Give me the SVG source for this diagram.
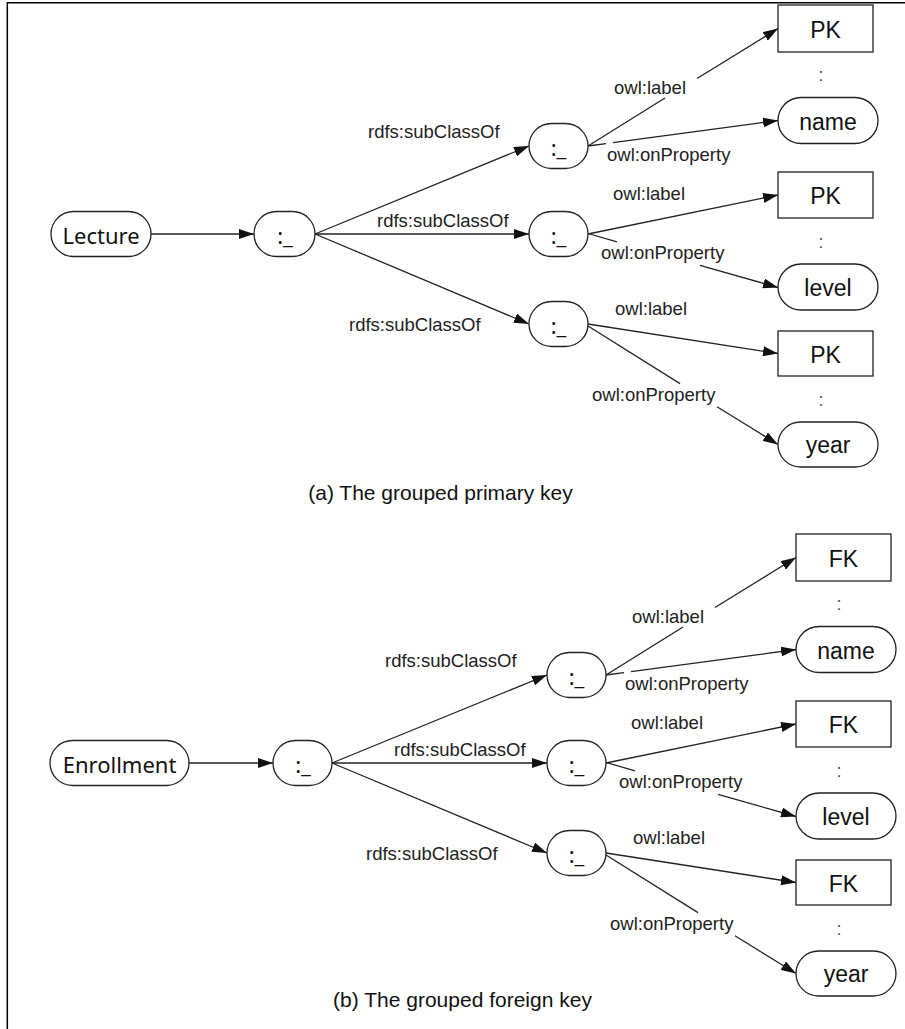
<svg xmlns="http://www.w3.org/2000/svg" width="905" height="1029" viewBox="0 0 905 1029">
<style>
.frame{stroke:#000;stroke-width:1.5;fill:none}
.node{fill:#fff;stroke:#222;stroke-width:1.3}
.nl{font-family:"Noto Sans",sans-serif;font-size:22px;fill:#111;text-anchor:middle}
.bl{font-family:"Liberation Sans",Arial,sans-serif;font-size:23px;fill:#111;text-anchor:middle}
.el{font-family:"Liberation Sans",Arial,sans-serif;font-size:18.5px;fill:#222}
.cap{font-family:"Liberation Sans",Arial,sans-serif;font-size:21px;fill:#111;text-anchor:middle}
.col{font-family:"Liberation Sans",Arial,sans-serif;font-size:18px;fill:#555;text-anchor:middle}
.e{stroke:#222;stroke-width:1.3;fill:none}
.a{marker-end:url(#arr)}
</style>
<defs>
<marker id="arr" markerUnits="userSpaceOnUse" markerWidth="15" markerHeight="10" refX="15" refY="5" orient="auto">
<path d="M0,0 L15,5 L0,10 z" fill="#111"/>
</marker>
</defs>
<rect width="905" height="1029" fill="#fff"/>
<path class="frame" d="M7.3,1029 L7.3,2.7 L905,2.7"/>

<g id="connectors">
  <!-- (a) -->
  <line class="e a" x1="151" y1="234" x2="254" y2="234"/>
  <line class="e a" x1="315" y1="234" x2="529" y2="146"/>
  <line class="e a" x1="315" y1="234" x2="529" y2="234"/>
  <line class="e a" x1="315" y1="234" x2="529" y2="324"/>
  <line class="e" x1="588" y1="146" x2="665" y2="98"/>
  <line class="e a" x1="697" y1="78.5" x2="778" y2="28.5"/>
  <line class="e" x1="588" y1="146" x2="606" y2="143.6"/>
  <line class="e a" x1="613" y1="142.6" x2="778" y2="120.5"/>
  <line class="e a" x1="588" y1="234" x2="778" y2="195"/>
  <line class="e" x1="588" y1="233.5" x2="617" y2="241.8"/>
  <line class="e a" x1="700" y1="265.4" x2="778" y2="287.5"/>
  <line class="e a" x1="588" y1="324" x2="778" y2="353.5"/>
  <line class="e" x1="588" y1="326" x2="680" y2="383.6"/>
  <line class="e a" x1="717" y1="406.8" x2="778" y2="444.5"/>
  <!-- (b) -->
  <line class="e a" x1="189" y1="763" x2="273" y2="763"/>
  <line class="e a" x1="332" y1="763" x2="547" y2="675"/>
  <line class="e a" x1="332" y1="763" x2="547" y2="763"/>
  <line class="e a" x1="332" y1="763" x2="547" y2="853"/>
  <line class="e" x1="606" y1="675" x2="683" y2="627"/>
  <line class="e a" x1="715" y1="607.5" x2="796" y2="557.5"/>
  <line class="e" x1="606" y1="675" x2="624" y2="672.6"/>
  <line class="e a" x1="631" y1="671.6" x2="796" y2="649.5"/>
  <line class="e a" x1="606" y1="763" x2="796" y2="724"/>
  <line class="e" x1="606" y1="762.5" x2="635" y2="770.8"/>
  <line class="e a" x1="718" y1="794.4" x2="796" y2="816.5"/>
  <line class="e a" x1="606" y1="853" x2="796" y2="882.5"/>
  <line class="e" x1="606" y1="855" x2="698" y2="912.6"/>
  <line class="e a" x1="735" y1="935.8" x2="796" y2="973.5"/>
</g>

<g id="edge-labels">
  <text class="el" x="368" y="138">rdfs:subClassOf</text>
  <text class="el" x="377" y="226.5">rdfs:subClassOf</text>
  <text class="el" x="349" y="330.5">rdfs:subClassOf</text>
  <text class="el" x="614" y="93.5">owl:label</text>
  <text class="el" x="607" y="160.5">owl:onProperty</text>
  <text class="el" x="613" y="200">owl:label</text>
  <text class="el" x="601" y="259">owl:onProperty</text>
  <text class="el" x="615" y="315">owl:label</text>
  <text class="el" x="592" y="400.5">owl:onProperty</text>

  <text class="el" x="385" y="667">rdfs:subClassOf</text>
  <text class="el" x="394" y="755.5">rdfs:subClassOf</text>
  <text class="el" x="366" y="859.5">rdfs:subClassOf</text>
  <text class="el" x="632" y="622.5">owl:label</text>
  <text class="el" x="625" y="689.5">owl:onProperty</text>
  <text class="el" x="631" y="729">owl:label</text>
  <text class="el" x="619" y="788">owl:onProperty</text>
  <text class="el" x="633" y="844">owl:label</text>
  <text class="el" x="610" y="929.5">owl:onProperty</text>
</g>

<!-- (a) nodes -->
<g id="lecture"><rect class="node" x="51" y="211.5" width="100" height="45" rx="22.5"/><text class="nl" x="101" y="244">Lecture</text></g>
<g id="a-root"><rect class="node" x="254" y="211.5" width="61" height="45" rx="22.5"/><text class="nl" x="285" y="244">:_</text></g>
<g id="a-mid1"><rect class="node" x="529" y="123.5" width="59" height="45" rx="22.5"/><text class="nl" x="558.5" y="156">:_</text></g>
<g id="a-mid2"><rect class="node" x="529" y="211.5" width="59" height="45" rx="22.5"/><text class="nl" x="558.5" y="244">:_</text></g>
<g id="a-mid3"><rect class="node" x="529" y="301.5" width="59" height="45" rx="22.5"/><text class="nl" x="558.5" y="334">:_</text></g>
<g id="a-pk1"><rect class="node" x="778" y="5" width="95" height="47"/><text class="bl" x="825.5" y="37.5">PK</text></g>
<g id="a-name"><rect class="node" x="778" y="97.5" width="100" height="46" rx="23"/><text class="bl" x="828" y="129.5">name</text></g>
<g id="a-pk2"><rect class="node" x="778" y="172" width="95" height="46"/><text class="bl" x="825.5" y="204">PK</text></g>
<g id="a-level"><rect class="node" x="778" y="264" width="100" height="46" rx="23"/><text class="bl" x="828" y="296">level</text></g>
<g id="a-pk3"><rect class="node" x="778" y="331" width="95" height="45"/><text class="bl" x="825.5" y="362.5">PK</text></g>
<g id="a-year"><rect class="node" x="778" y="422" width="100" height="45" rx="22.5"/><text class="bl" x="828" y="453">year</text></g>
<g id="a-colons">
  <text class="col" x="821" y="81">:</text>
  <text class="col" x="821" y="248">:</text>
  <text class="col" x="821" y="406">:</text>
</g>
<text class="cap" x="440.5" y="500">(a) The grouped primary key</text>

<!-- (b) nodes -->
<g id="enrollment"><rect class="node" x="50" y="740.5" width="139" height="45" rx="22.5"/><text class="nl" x="119.5" y="773">Enrollment</text></g>
<g id="b-root"><rect class="node" x="273" y="740.5" width="59" height="45" rx="22.5"/><text class="nl" x="303" y="773">:_</text></g>
<g id="b-mid1"><rect class="node" x="547" y="652.5" width="59" height="45" rx="22.5"/><text class="nl" x="576.5" y="685">:_</text></g>
<g id="b-mid2"><rect class="node" x="547" y="740.5" width="59" height="45" rx="22.5"/><text class="nl" x="576.5" y="773">:_</text></g>
<g id="b-mid3"><rect class="node" x="547" y="830.5" width="59" height="45" rx="22.5"/><text class="nl" x="576.5" y="863">:_</text></g>
<g id="b-fk1"><rect class="node" x="796" y="534" width="95" height="47"/><text class="bl" x="843.5" y="566.5">FK</text></g>
<g id="b-name"><rect class="node" x="796" y="626.5" width="100" height="46" rx="23"/><text class="bl" x="846" y="658.5">name</text></g>
<g id="b-fk2"><rect class="node" x="796" y="701" width="95" height="46"/><text class="bl" x="843.5" y="733">FK</text></g>
<g id="b-level"><rect class="node" x="796" y="793" width="100" height="46" rx="23"/><text class="bl" x="846" y="825">level</text></g>
<g id="b-fk3"><rect class="node" x="796" y="860" width="95" height="45"/><text class="bl" x="843.5" y="891.5">FK</text></g>
<g id="b-year"><rect class="node" x="796" y="951" width="100" height="45" rx="22.5"/><text class="bl" x="846" y="982">year</text></g>
<g id="b-colons">
  <text class="col" x="839" y="610">:</text>
  <text class="col" x="839" y="777">:</text>
  <text class="col" x="839" y="935">:</text>
</g>
<text class="cap" x="462.5" y="1007">(b) The grouped foreign key</text>
</svg>
